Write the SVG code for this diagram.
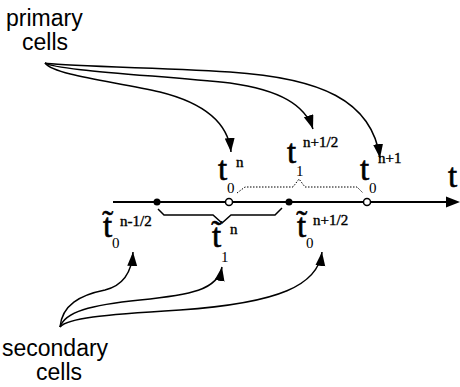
<svg xmlns="http://www.w3.org/2000/svg" width="460" height="387" viewBox="0 0 460 387">
<defs>
<style>
.lbl{font-family:"Liberation Sans",Arial,sans-serif;font-size:23px;fill:#000}
.t{font-family:"Liberation Serif","Times New Roman",serif;font-size:33px;fill:#000;stroke:#000;stroke-width:0.6}
.sub{font-family:"Liberation Serif","Times New Roman",serif;font-size:15px;fill:#000}
.sup{font-family:"Liberation Serif","Times New Roman",serif;font-size:15px;fill:#000;stroke:#000;stroke-width:0.4}
.cur{fill:none;stroke:#000;stroke-width:1.5}
</style>
<marker id="ah" markerUnits="userSpaceOnUse" markerWidth="16" markerHeight="12" refX="14" refY="5" orient="auto">
<path d="M0,0 L14,5 L0,10 z" fill="#000"/>
</marker>
</defs>
<rect width="460" height="387" fill="#fff"/>
<g id="primary-label">
<text class="lbl" x="6" y="26">primary</text>
<text class="lbl" x="22" y="50">cells</text>
</g>
<g id="secondary-label">
<text class="lbl" x="2" y="356">secondary</text>
<text class="lbl" x="36" y="380">cells</text>
</g>
<g id="connectors">
<path class="cur" d="M45,63 C55,76 120,82 160,92 C200,102 228,120 231,152" marker-end="url(#ah)"/>
<path class="cur" d="M45,63 C55,70 150,75 230,83 C280,90 305,105 313,129" marker-end="url(#ah)"/>
<path class="cur" d="M45,63 C55,66 150,67 230,72 C320,78 372,100 380,158" marker-end="url(#ah)"/>
<path class="cur" d="M60,327 C62,305 80,295 105,290 C125,285 132,270 133,252" marker-end="url(#ah)"/>
<path class="cur" d="M60,327 C65,312 90,305 140,300 C190,295 218,290 222,267" marker-end="url(#ah)"/>
<path class="cur" d="M60,327 C68,318 100,315 180,310 C280,303 318,285 322,252" marker-end="url(#ah)"/>
</g>
<g id="axis">
<line x1="113" y1="202" x2="448" y2="202" stroke="#000" stroke-width="2"/>
<path d="M446,196.5 L460,202 L446,207.5 z" fill="#000"/>
<text class="t" x="448" y="187">t</text>
</g>
<g id="braces">
<path d="M237,193 L245,187 L293,187 L299,179 L305,187 L357,187 L363,193" fill="none" stroke="#000" stroke-width="1" stroke-dasharray="1.5,1.5"/>
<path d="M158,209 L164,215 L213,215 L222,223 L231,215 L275,215 L282,208" fill="none" stroke="#000" stroke-width="1.5"/>
</g>
<g id="points">
<circle cx="157" cy="202" r="3.5" fill="#000"/>
<circle cx="229" cy="202" r="3.5" fill="#fff" stroke="#000" stroke-width="1.5"/>
<circle cx="289" cy="202" r="3.5" fill="#000"/>
<circle cx="367" cy="202" r="3.5" fill="#fff" stroke="#000" stroke-width="1.5"/>
</g>
<g id="t0n">
<text class="t" x="218" y="180">t</text>
<text class="sub" x="227" y="193">0</text>
<text class="sup" x="236" y="167">n</text>
</g>
<g id="t1n12">
<text class="t" x="287" y="163">t</text>
<text class="sub" x="296" y="176">1</text>
<text class="sup" x="303" y="147">n+1/2</text>
</g>
<g id="t0n1">
<text class="t" x="360" y="180">t</text>
<text class="sub" x="369" y="193">0</text>
<text class="sup" x="378" y="163">n+1</text>
</g>
<g id="tt0nm12">
<text class="t" x="103" y="237">t̃</text>
<text class="sub" x="112" y="248">0</text>
<text class="sup" x="120" y="226">n-1/2</text>
</g>
<g id="tt1n">
<text class="t" x="212" y="247">t̃</text>
<text class="sub" x="221" y="262">1</text>
<text class="sup" x="230" y="234">n</text>
</g>
<g id="tt0n12">
<text class="t" x="297" y="237">t̃</text>
<text class="sub" x="306" y="248">0</text>
<text class="sup" x="313" y="225">n+1/2</text>
</g>
</svg>
